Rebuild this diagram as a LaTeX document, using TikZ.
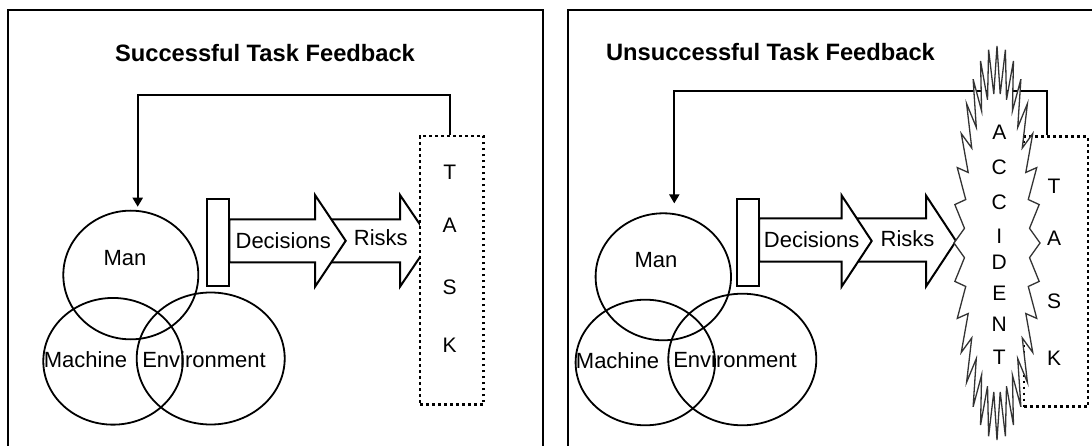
\documentclass[tikz,border=0pt]{standalone}
\usepackage{fontspec}
\setmainfont{Liberation Sans}
\usetikzlibrary{arrows.meta,shapes.geometric}
\begin{document}
\begin{tikzpicture}[x=1pt,y=-1pt,
  frame/.style={line width=2.2pt},
  ttl/.style={font=\fontsize{23.7}{28}\selectfont\bfseries, inner sep=0},
  lbl/.style={font=\fontsize{22}{26}\selectfont, inner sep=0},
  letter/.style={font=\fontsize{21}{25}\selectfont, inner sep=0},
  sphere/.style={ellipse, draw, line width=1.8pt, inner sep=0},
  blk/.style={draw, fill=white, line width=2pt, line join=miter},
  bar/.style={rectangle, draw, fill=white, line width=2pt, inner sep=0},
  taskbox/.style={rectangle, draw, fill=white, line width=2.7pt,
                  dash pattern=on 2.7pt off 3.3pt, inner sep=0},
  feedback/.style={line width=2pt, -{Triangle[length=9pt,width=10pt]}},
  burst/.style={draw=black!80, fill=white, line width=1.3pt, line join=miter}
]
\clip (0,0) rectangle (1092,446);
\fill[white] (0,0) rectangle (1092,446);

% ---------- panel frames ----------
\draw[frame] (8.3,460) -- (8.3,10) -- (543.3,10) -- (543.3,460);
\draw[frame] (567.7,460) -- (567.7,10) -- (1100,10);

% ---------- titles ----------
\node[ttl] (titleL) at (265,53) {Successful Task Feedback};
\node[ttl] (titleR) at (770.5,52.4) {Unsuccessful Task Feedback};

% ---------- left panel ----------
\node[sphere, minimum width=135pt, minimum height=128.7pt] (manL)  at (130.8,275) {};
\node[sphere, minimum width=139.4pt, minimum height=126.7pt] (machL) at (113,361.3) {};
\node[sphere, minimum width=148pt, minimum height=132pt] (envL)  at (210.7,358.5) {};
\node[lbl] (manLt)  at (125,258.3) {Man};
\node[lbl] (machLt) at (85.5,359.7) {Machine};
\node[lbl] (envLt)  at (204,359.7) {Environment};

% risks arrow sits behind the decisions arrow
\draw[blk] (320,219.3) -- (400,219.3) -- (400,195) -- (431,240.8)
  -- (400,286.7) -- (400,262.3) -- (320,262.3) -- cycle;
\draw[blk] (229.3,219.3) -- (315,219.3) -- (315,195) -- (345.7,240.8)
  -- (315,286.7) -- (315,262.3) -- (229.3,262.3) -- cycle;
\node[bar, minimum width=22.6pt, minimum height=87pt] (barL) at (218,242.8) {};
\node[lbl] (decL)  at (283.3,240.5) {Decisions};
\node[lbl] (riskL) at (380.8,237.5) {Risks};

\node[taskbox, minimum width=63.7pt, minimum height=268.7pt] (taskL) at (451.85,270.35) {};
\foreach \ch/\yy [count=\k] in {T/172.5,A/225.5,S/287.5,K/345.5}
  \node[letter] (taskL\k) at (449.7,\yy) {\ch};

\draw[feedback] ([xshift=-2.15pt]taskL.north) -- ++(0,-39.3)
  -| ([xshift=6.9pt,yshift=3pt]manL.north);

% ---------- right panel ----------
\node[sphere, minimum width=135.4pt, minimum height=127pt] (manR)  at (663.3,276.8) {};
\node[sphere, minimum width=139.4pt, minimum height=125.6pt] (machR) at (645.3,362.5) {};
\node[sphere, minimum width=148pt, minimum height=131.6pt] (envR)  at (742.3,359.5) {};
\node[lbl] (manRt)  at (656,259.7) {Man};
\node[lbl] (machRt) at (617.5,360.3) {Machine};
\node[lbl] (envRt)  at (735,360) {Environment};

\draw[blk] (850,218.3) -- (926,218.3) -- (926,195.5) -- (956,241)
  -- (926,286.5) -- (926,261.7) -- (850,261.7) -- cycle;
\draw[blk] (759,218.3) -- (841.7,218.3) -- (841.7,195.5) -- (871.7,241)
  -- (841.7,286.5) -- (841.7,261.7) -- (759,261.7) -- cycle;
\node[bar, minimum width=22.3pt, minimum height=87pt] (barR) at (747.85,242.8) {};
\node[lbl] (decR)  at (811.6,240) {Decisions};
\node[lbl] (riskR) at (907.5,238.3) {Risks};

\node[taskbox, minimum width=64pt, minimum height=270pt] (taskR) at (1056,271.7) {};
\foreach \ch/\yy [count=\k] in {T/186.7,A/238.3,S/301.7,K/358.3}
  \node[letter] (taskR\k) at (1054,\yy) {\ch};

\draw[feedback] ([xshift=-8.7pt]taskR.north) -- ++(0,-44.5)
  -| ([xshift=11pt,yshift=9pt]manR.north);

% accident burst: a 32-point star stretched upright
\coordinate (accC) at (997,243);
\begin{scope}[shift={(accC)}, x=43pt, y=197pt]
  \draw[burst] (90:1) \foreach \i in {1,...,63}{ -- ({90+5.625*\i}:{1-0.24*mod(\i,2)}) } -- cycle;
\end{scope}
\foreach \ch/\yy [count=\k] in {A/132,C/167,C/202,I/236,D/262,E/293,N/324,T/357}
  \node[letter] (acc\k) at (999.3,\yy) {\ch};

\end{tikzpicture}
\end{document}
